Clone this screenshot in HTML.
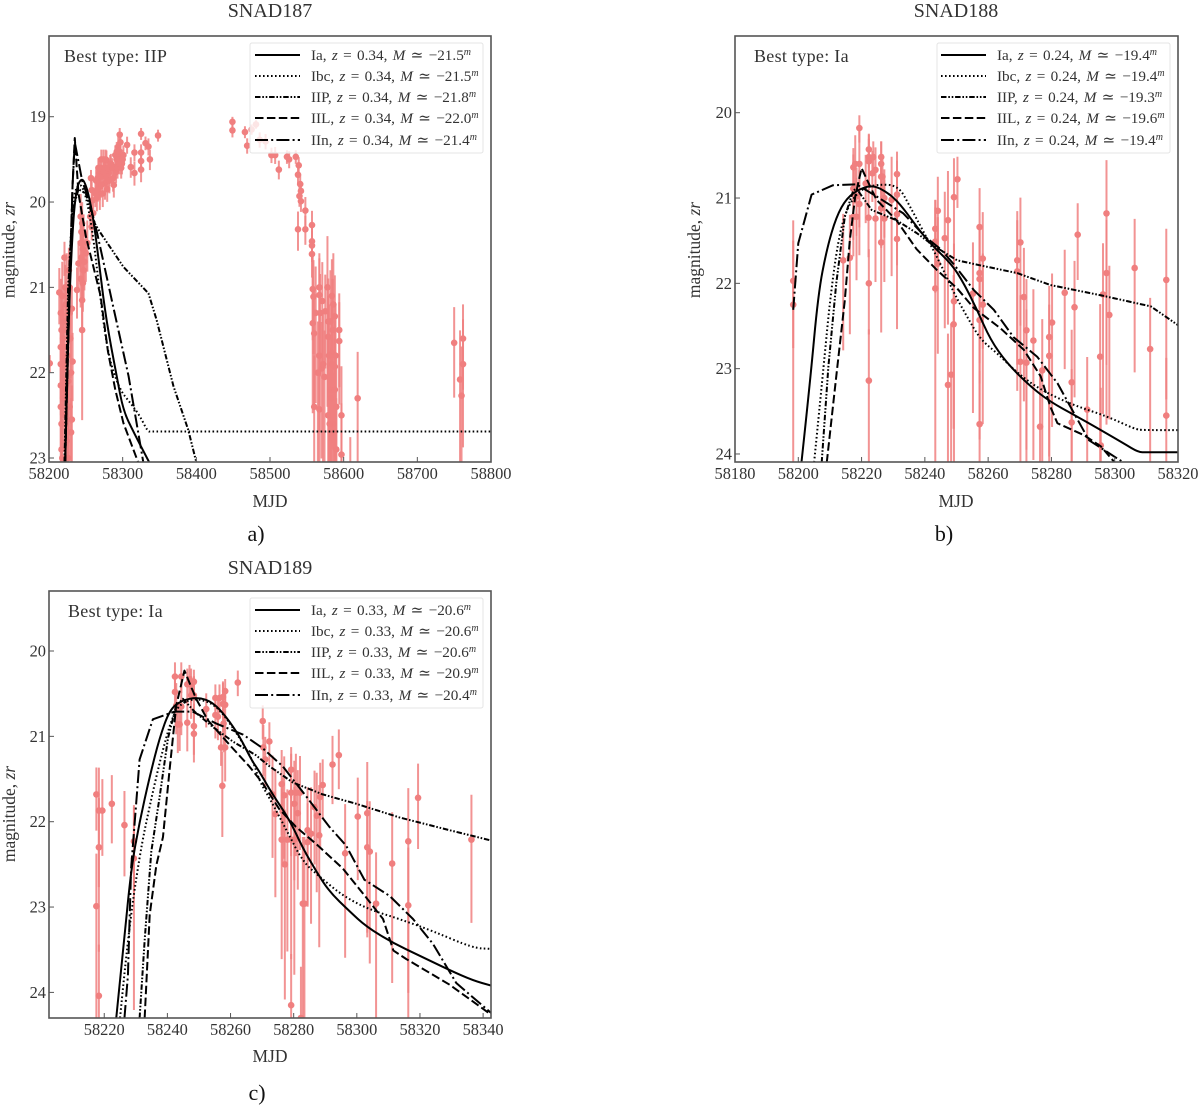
<!DOCTYPE html>
<html lang="en">
<head>
<meta charset="utf-8">
<title>SNAD light curves</title>
<style>
html,body{margin:0;padding:0;background:#fff;}
svg{display:block;}
text{font-family:"Liberation Serif","DejaVu Serif",serif;fill:#333;}
.title{font-size:20px;text-anchor:middle;}
.axlab{font-size:17.5px;text-anchor:middle;}
.tick{font-size:16.4px;}
.best{font-size:18px;letter-spacing:.3px;}
.lg{font-size:15.2px;word-spacing:1.5px;}
.sup{font-size:10px;font-style:italic;}
.i{font-style:italic;}
.cap{font-size:22px;text-anchor:middle;fill:#111;}
.frame{fill:none;stroke:#555;stroke-width:1.6;}
.lbox{fill:#fff;fill-opacity:.8;stroke:#e4e4e4;stroke-width:1;}
.lh{stroke:#000;stroke-width:2;fill:none;}
.ibc{stroke-dasharray:1.6 2.4;}
.iip{stroke-dasharray:5.5 1.8 1.6 1.8 1.6 1.8;}
.iil{stroke-dasharray:8.5 3.4;}
.iin{stroke-dasharray:13 3.2 2 3.2;}
</style>
</head>
<body>
<svg id="chart" xmlns="http://www.w3.org/2000/svg" width="1200" height="1106" viewBox="0 0 1200 1106">
<defs>
<clipPath id="clip-a"><rect x="49" y="36" width="442" height="426"/></clipPath>
<clipPath id="clip-b"><rect x="735" y="36" width="443" height="426"/></clipPath>
<clipPath id="clip-c"><rect x="49" y="591" width="442" height="427"/></clipPath>
</defs>

<g id="panel-a">
<text class="title" x="270" y="17">SNAD187</text>
<g id="marks-a" clip-path="url(#clip-a)"></g>
<g id="ticks-a"></g>
<rect class="frame" x="49" y="36" width="442" height="426"/>
<text class="best" x="64" y="62">Best type: IIP</text>
<text class="axlab" x="270" y="507">MJD</text>
<text class="axlab" transform="translate(14.5,250) rotate(-90)">magnitude, <tspan class="i">zr</tspan></text>
<g>
<rect class="lbox" x="250" y="43" width="233" height="110" rx="2"/>
<line class="lh" x1="255" x2="300" y1="55" y2="55"/>
<line class="lh ibc" x1="255" x2="300" y1="76" y2="76"/>
<line class="lh iip" x1="255" x2="300" y1="97" y2="97"/>
<line class="lh iil" x1="255" x2="300" y1="118" y2="118"/>
<line class="lh iin" x1="255" x2="300" y1="140" y2="140"/>
<text class="lg" x="311" y="60">Ia, <tspan class="i">z</tspan> = 0.34, <tspan class="i">M</tspan> ≃ −21.5<tspan class="sup" dy="-5">m</tspan></text>
<text class="lg" x="311" y="81">Ibc, <tspan class="i">z</tspan> = 0.34, <tspan class="i">M</tspan> ≃ −21.5<tspan class="sup" dy="-5">m</tspan></text>
<text class="lg" x="311" y="102">IIP, <tspan class="i">z</tspan> = 0.34, <tspan class="i">M</tspan> ≃ −21.8<tspan class="sup" dy="-5">m</tspan></text>
<text class="lg" x="311" y="123">IIL, <tspan class="i">z</tspan> = 0.34, <tspan class="i">M</tspan> ≃ −22.0<tspan class="sup" dy="-5">m</tspan></text>
<text class="lg" x="311" y="145">IIn, <tspan class="i">z</tspan> = 0.34, <tspan class="i">M</tspan> ≃ −21.4<tspan class="sup" dy="-5">m</tspan></text>
</g>
<text class="cap" x="256" y="541">a)</text>
</g>

<g id="panel-b">
<text class="title" x="956" y="17">SNAD188</text>
<g id="marks-b" clip-path="url(#clip-b)"></g>
<g id="ticks-b"></g>
<rect class="frame" x="735" y="36" width="443" height="426"/>
<text class="best" x="754" y="62">Best type: Ia</text>
<text class="axlab" x="956" y="507">MJD</text>
<text class="axlab" transform="translate(700,250) rotate(-90)">magnitude, <tspan class="i">zr</tspan></text>
<g>
<rect class="lbox" x="937" y="43" width="233" height="110" rx="2"/>
<line class="lh" x1="941" x2="986" y1="55" y2="55"/>
<line class="lh ibc" x1="941" x2="986" y1="76" y2="76"/>
<line class="lh iip" x1="941" x2="986" y1="97" y2="97"/>
<line class="lh iil" x1="941" x2="986" y1="118" y2="118"/>
<line class="lh iin" x1="941" x2="986" y1="140" y2="140"/>
<text class="lg" x="997" y="60">Ia, <tspan class="i">z</tspan> = 0.24, <tspan class="i">M</tspan> ≃ −19.4<tspan class="sup" dy="-5">m</tspan></text>
<text class="lg" x="997" y="81">Ibc, <tspan class="i">z</tspan> = 0.24, <tspan class="i">M</tspan> ≃ −19.4<tspan class="sup" dy="-5">m</tspan></text>
<text class="lg" x="997" y="102">IIP, <tspan class="i">z</tspan> = 0.24, <tspan class="i">M</tspan> ≃ −19.3<tspan class="sup" dy="-5">m</tspan></text>
<text class="lg" x="997" y="123">IIL, <tspan class="i">z</tspan> = 0.24, <tspan class="i">M</tspan> ≃ −19.6<tspan class="sup" dy="-5">m</tspan></text>
<text class="lg" x="997" y="145">IIn, <tspan class="i">z</tspan> = 0.24, <tspan class="i">M</tspan> ≃ −19.4<tspan class="sup" dy="-5">m</tspan></text>
</g>
<text class="cap" x="944" y="541">b)</text>
</g>

<g id="panel-c">
<text class="title" x="270" y="574">SNAD189</text>
<g id="marks-c" clip-path="url(#clip-c)"></g>
<g id="ticks-c"></g>
<rect class="frame" x="49" y="591" width="442" height="427"/>
<text class="best" x="68" y="617">Best type: Ia</text>
<text class="axlab" x="270" y="1062">MJD</text>
<text class="axlab" transform="translate(15,814) rotate(-90)">magnitude, <tspan class="i">zr</tspan></text>
<g>
<rect class="lbox" x="250" y="598" width="233" height="110" rx="2"/>
<line class="lh" x1="255" x2="300" y1="610" y2="610"/>
<line class="lh ibc" x1="255" x2="300" y1="631" y2="631"/>
<line class="lh iip" x1="255" x2="300" y1="652" y2="652"/>
<line class="lh iil" x1="255" x2="300" y1="673" y2="673"/>
<line class="lh iin" x1="255" x2="300" y1="695" y2="695"/>
<text class="lg" x="311" y="615">Ia, <tspan class="i">z</tspan> = 0.33, <tspan class="i">M</tspan> ≃ −20.6<tspan class="sup" dy="-5">m</tspan></text>
<text class="lg" x="311" y="636">Ibc, <tspan class="i">z</tspan> = 0.33, <tspan class="i">M</tspan> ≃ −20.6<tspan class="sup" dy="-5">m</tspan></text>
<text class="lg" x="311" y="657">IIP, <tspan class="i">z</tspan> = 0.33, <tspan class="i">M</tspan> ≃ −20.6<tspan class="sup" dy="-5">m</tspan></text>
<text class="lg" x="311" y="678">IIL, <tspan class="i">z</tspan> = 0.33, <tspan class="i">M</tspan> ≃ −20.9<tspan class="sup" dy="-5">m</tspan></text>
<text class="lg" x="311" y="700">IIn, <tspan class="i">z</tspan> = 0.33, <tspan class="i">M</tspan> ≃ −20.4<tspan class="sup" dy="-5">m</tspan></text>
</g>
<text class="cap" x="257" y="1100">c)</text>
</g>
</svg>

<script>
/* ===== Tick labels ===== */
const aXTicks = [58200,58300,58400,58500,58600,58700,58800];
const aYTicks = [19,20,21,22,23];
const bXTicks = [58180,58200,58220,58240,58260,58280,58300,58320];
const bYTicks = [20,21,22,23,24];
const cXTicks = [58220,58240,58260,58280,58300,58320,58340];
const cYTicks = [20,21,22,23,24];

/* ===== SNAD187 observations ===== */
const aObsMjd = [58201,58214,58216,58216,58216,58216,58216,58217,58217,58219,58219,58221,58222,58223,58224,58225,58226,58227,58228,58229,58230,58231,58231,58232,58222,58224,58226,58228,58218,
58243,58243,58240,58238,58245,58245,58250,58247,58252,
58257,58258,58259,58260,58256,58258,58266,58268,58269,58271,58274,58276,58269,58278,58281,58283,58287,58290,58292,58294,58296,58297,58301,58299,58306,58311,58316,58316,58325,58325,58325,58325,58331,58335,58337,58348,
58449,58449,58466,58469,58475,58481,58486,58494,58502,58507,58512,58523,58526,58535,58539,58538,58541,58542,58540,58542,58548,58538,58548,
58557,58557,58557,58557,58558,58559,58558,58560,58567,58567,58571,58568,58575,58567,58570,58574,58560,58567,58579,58579,58584,58588,58594,58594,58584,58588,58579,58597,58597,58619,58609,58582,58586,58590,
58750,58758,58762,58762,58760,
58263,58264,58265,58266,58267,58268,58269,58270,58271,58272,58273,58274,58275,58276,58277,58278,58279,58280,58282,58284,58286,58288,58290,58291,58292,58293,58294,58295,58296,58297,58298,58300,
58243,58244,58245,58246,58247,58248,58246,58244,
58218,58220,58222,58224,58226,58228,58219,58217,58221,58230,
58578,58580,58582,58584,58586,58588,58581,58585,58583,58587,58589,58590,58565,58562,58572];
const aObsMag = [21.89,21.06,21.3,21.7,21.9,22.15,22.4,22.6,22.9,21.6,21.9,20.65,21,21.2,21.5,21.8,22.1,20.8,21.3,21.6,22,21.25,22.55,21.87,22.5,22.8,23,22.4,23,
20.17,20.48,20.72,21.03,21.15,21.5,20.6,20.37,20.48,
19.72,19.86,19.98,20.13,20.17,20.29,19.72,19.66,19.82,19.5,19.62,19.78,19.9,19.51,19.66,19.59,19.72,19.59,19.41,19.35,19.21,19.47,19.45,19.55,19.33,19.59,19.42,19.66,19.2,19.42,19.52,19.62,19.31,19.35,19.5,19.22,
19.06,19.16,19.18,19.34,19.15,19.09,19.27,19.29,19.45,19.45,19.62,19.47,19.5,19.47,19.57,19.68,19.79,19.87,19.93,19.99,20.1,20.32,20.32,
20.27,20.46,20.51,20.61,21.02,21.11,21.42,21.54,21,21.09,21.16,21.3,21.28,21.8,21.95,22.05,22.4,22.43,21.4,21.58,21.1,21.34,21.5,21.63,21.77,21.93,22.5,22.5,22.96,22.3,23.3,22.2,22.6,22.9,
21.65,22.08,21.6,21.9,22.27,
19.9,19.75,19.95,19.85,19.6,19.8,19.7,19.6,19.8,19.7,19.9,19.5,19.65,19.6,19.5,19.7,19.85,19.6,19.75,19.55,19.6,19.8,19.45,19.65,19.5,19.6,19.5,19.4,19.55,19.3,19.6,19.5,
20.9,20.65,20.25,20.55,20.8,20.7,20.95,20.35,
21.1,21.4,22.2,21,22.4,21,22.3,21.5,21.7,22.7,
21,21.8,21.4,21.9,21.2,22.2,22.6,21.5,22.3,22.7,21.8,22.4,22,21.3,21.9];
const aObsErr = [0.1,0.33,0.5,0.5,0.5,0.6,0.6,0.6,0.6,0.5,0.5,0.2,0.3,0.3,0.4,0.4,0.5,0.3,0.3,0.4,0.5,0.3,0.5,0.4,0.6,0.6,0.6,0.5,0.6,
0.3,0.3,0.3,0.3,0.3,0.8,0.3,0.25,0.3,
0.1,0.12,0.12,0.15,0.15,0.15,0.15,0.15,0.15,0.12,0.15,0.18,0.18,0.12,0.15,0.15,0.15,0.12,0.12,0.12,0.08,0.12,0.12,0.12,0.1,0.12,0.1,0.14,0.07,0.1,0.12,0.14,0.08,0.1,0.12,0.07,
0.06,0.08,0.07,0.09,0.06,0.05,0.09,0.09,0.09,0.1,0.11,0.08,0.1,0.08,0.1,0.1,0.12,0.12,0.12,0.12,0.17,0.23,0.17,
0.18,0.18,0.18,0.25,0.5,0.55,0.8,0.7,0.5,0.55,0.6,0.6,0.55,0.7,0.8,0.8,1,1,0.7,0.65,0.55,0.65,0.55,0.6,0.8,0.8,1,0.9,1,0.8,0.8,1,1,1,
0.53,0.9,0.5,0.75,0.9,
0.15,0.14,0.15,0.14,0.12,0.14,0.14,0.12,0.14,0.14,0.15,0.12,0.14,0.14,0.12,0.14,0.14,0.12,0.14,0.12,0.12,0.14,0.12,0.12,0.12,0.12,0.12,0.12,0.12,0.1,0.12,0.12,
0.3,0.3,0.28,0.3,0.3,0.3,0.3,0.28,
0.5,0.5,0.5,0.5,0.5,0.5,0.5,0.5,0.5,0.5,
1,1,1,1,1,1,1,1,1,1,1,1,1,0.8,1];

/* ===== SNAD187 model curves ===== */
const aIaMjd = [58222,58226,58232,58237,58243,58248,58255,58262,58269,58278,58292,58301,58315,58336];
const aIaMag = [23.05,21.5,20.3,19.85,19.73,19.75,19.95,20.3,20.8,21.4,22.05,22.45,22.7,23.05];
const aIbcMjd = [58222,58226,58232,58238,58245,58252,58260,58268,58280,58296,58310,58323,58334,58338,58800];
const aIbcMag = [23.05,21,20,19.8,19.8,20,20.4,21,21.8,22.2,22.35,22.5,22.69,22.69,22.69];
const aIipMjd = [58221,58226,58232,58240,58250,58262,58269,58301,58335,58346,58369,58389,58400];
const aIipMag = [23.05,21,20.1,19.85,19.9,20.25,20.35,20.76,21.07,21.38,22.16,22.67,23.05];
const aIilMjd = [58222,58228,58232,58235,58240,58250,58260,58270,58280,58290,58301,58321];
const aIilMag = [23.05,21,19.8,19.25,19.9,20.4,20.75,21.1,21.75,22.2,22.59,23.05];
const aIinMjd = [58222,58228,58232,58235,58245,58255,58265,58287,58308,58328];
const aIinMag = [23.05,20.9,19.8,19.3,19.75,20,20.35,21.22,22.04,23.05];

/* ===== SNAD188 observations ===== */
const bObsMjd = [58198.4,58198.4,58214.2,58216.3,58217.4,58218,58219.3,58219.3,58217.4,58217.4,58218.4,58218.4,58219.3,58221.3,58222.3,58222.3,58222.3,58222.2,58222.3,58222.3,58223.7,58223.4,58224.4,58224.4,58226.2,58226.2,58226.2,58226.6,58226.2,58227.2,58227.2,58226.2,58229.5,58231.2,58231.2,58231.2,58231.2,
58243.3,58244.1,58243.3,58243.3,58244.1,58247.3,58246.3,58249.2,58250.3,58249.2,58249.1,58247.3,58248.3,
58257.3,58258.3,58257.3,58257.3,58255.2,58257.3,58258.3,58257.3,
58269.2,58270.2,58269.2,58271.3,58272.1,58270.2,58272.1,58274.3,58276.4,58277.1,58279.3,58279.3,58280.2,58284.2,58286.4,58286.4,58287.3,58288.3,58291.3,58295.4,58296.3,58297.4,58297.4,58298.3,58295.6,58306.3,58311.2,58316.3,58316.3];
const bObsMag = [21.97,22.25,21.73,21.7,20.64,20.6,20.18,20.6,20.89,21.22,21.22,20.98,21.07,20.83,20.43,20.57,20.52,21.23,22,23.14,20.52,20.71,20.67,21.24,20.52,20.6,20.75,20.75,21.12,21.24,21,21.52,21.02,20.72,20.96,21.19,21.48,
21.36,21.15,21.51,22.06,21.77,21.26,21.47,20.99,20.78,22.21,22.48,23.19,23.07,
21.34,21.71,21.88,21.95,22.12,22.43,22.25,23.65,
21.73,21.52,21.86,22.16,22.55,22.92,22.93,22.67,23.68,23.02,22.63,22.85,22.46,22.11,23.16,23.63,22.28,21.43,23.48,22.86,22.13,21.18,21.88,22.37,23.9,21.82,22.77,21.96,23.55];
const bObsErr = [0.63,1.9,0.8,0.7,0.25,0.4,0.16,0.6,0.5,0.4,0.6,0.4,0.5,0.4,0.2,0.3,0.3,0.4,0.5,1,0.2,0.3,0.3,0.6,0.2,0.3,0.3,0.3,0.4,0.6,0.4,0.8,0.7,0.3,0.5,0.5,0.8,
0.4,0.5,0.5,2,0.8,0.9,0.8,0.6,0.3,1.3,0.9,1,1,
0.6,0.8,0.8,0.9,1,1,1,1.2,
0.9,0.75,1,0.9,1,1.5,1.2,1,1.2,1,1,1,0.9,0.7,1.1,1.2,0.8,0.45,1.1,1.1,1,1.2,1.2,0.9,1.3,0.9,1,1,1.3];

/* ===== SNAD188 model curves ===== */
const bIaMjd = [58201,58203.7,58206.3,58209,58212,58215.3,58219.5,58223.7,58228,58232,58237.5,58241.6,58248.6,58252.3,58256.5,58260.7,58266,58273.4,58279.7,58287.1,58295.6,58303,58307.5,58310,58320];
const bIaMag = [24.1,23.17,22.12,21.6,21.22,21,20.89,20.85,20.93,21.06,21.34,21.53,21.78,22,22.31,22.66,22.94,23.21,23.39,23.54,23.72,23.88,23.98,23.98,23.98];
const bIbcMjd = [58205,58208,58210,58212.6,58215.3,58219.5,58224.7,58231.6,58235.3,58239.5,58244.7,58249,58253.3,58257.6,58262.9,58269.2,58276.6,58287.1,58297.7,58306.5,58309,58320];
const bIbcMag = [24.1,22.98,22.2,21.49,21.12,20.9,20.84,20.85,21.1,21.39,21.75,22.1,22.39,22.66,22.82,23.05,23.25,23.43,23.56,23.71,23.72,23.72];
const bIipMjd = [58207.4,58209.5,58212,58214.7,58217.4,58218.4,58223.2,58231,58237.4,58243.2,58250.2,58257.6,58269.2,58279.7,58295.6,58311.4,58320];
const bIipMag = [24.1,22.98,22,21.22,20.91,20.89,21.14,21.26,21.41,21.57,21.73,21.79,21.88,22.02,22.14,22.27,22.49];
const bIilMjd = [58209,58212,58214.7,58216.3,58218,58220,58224.7,58231,58237.4,58243.7,58250.2,58255.5,58264,58271.3,58276.6,58279.7,58281.9,58290.3,58295.6,58300];
const bIilMag = [24.1,23.09,22.2,21.49,20.98,20.65,21.02,21.26,21.6,21.84,22.06,22.29,22.53,22.78,23.09,23.45,23.64,23.78,23.91,24.1];
const bIinMjd = [58198.4,58200,58204.2,58211,58218.4,58224.7,58233.2,58240,58245,58249,58255.5,58261.8,58268,58275.5,58281.9,58287.1,58291.9,58302.8];
const bIinMag = [22.31,21.53,20.96,20.85,20.84,20.98,21.18,21.45,21.6,21.77,22.08,22.31,22.63,22.86,23.17,23.52,23.84,24.1];

/* ===== SNAD189 observations ===== */
const cObsMjd = [58217.5,58218.3,58219.4,58218.3,58217.5,58218.3,58222.4,58226.4,58229.4,58229.4,
58242.4,58242.4,58242.8,58243.3,58243.9,58244.4,58244.4,58246.3,58246.3,58247,58247.5,58248.4,58247.5,58248.4,58248.4,58248.4,58252.3,58255.2,58256.5,58255.2,58256,58257.6,58258.3,58258.3,58257.6,58257,58258.3,58257.4,58257.8,58262.3,
58270.2,58270.4,58271,58272.3,58273.3,58274.2,58276.2,58277,58276.5,58276.2,58277.2,58278,58279.2,58279.2,58280.2,58281.3,58280.7,58282,58279.2,58280.2,58279.2,58282.3,58282.9,58283.4,58284.4,58285.5,58284.4,58286.6,58287.3,58288.4,58289.2,58288.1,58292.3,58294.3,58296.3,58300.3,58303.3,58303.3,58304.1,58306.1,58311.2,58316.3,58316.3,58319.4,58336.3];
const cObsMag = [21.68,21.87,21.87,22.3,22.99,24.04,21.79,22.04,22.23,22.43,
20.3,20.48,20.64,20.86,20.86,20.3,20.65,20.39,20.84,20.33,20.39,20.36,20.52,20.52,20.88,20.97,20.68,20.55,20.55,20.75,20.77,20.54,20.47,20.63,20.62,21.13,21.13,21.58,20.85,20.37,
20.82,21.13,21.27,21.06,21.68,21.91,21.56,21.69,21.88,22.21,22.5,22.21,21.39,21.66,21.79,21.9,21.66,21.66,22.21,22.21,24.15,24.3,22.96,22.96,22.1,22.14,22.24,21.83,21.93,21.71,21.57,22.16,21.33,21.22,22.37,21.94,21.9,22.3,22.35,22.96,22.49,22.23,22.98,21.72,22.21];
const cObsErr = [0.37,0.7,0.45,0.9,1.1,1,0.4,0.5,0.5,1.2,
0.18,0.2,0.3,0.3,0.28,0.18,0.3,0.2,0.3,0.18,0.2,0.15,0.25,0.25,0.3,0.3,0.2,0.17,0.17,0.25,0.25,0.18,0.15,0.2,0.3,0.2,0.35,0.5,0.3,0.15,
0.2,0.3,0.3,0.25,0.6,0.75,0.5,0.6,0.5,1,1.1,0.95,0.3,0.6,0.7,0.7,0.6,0.55,1,1.1,1,1,1.5,1.5,0.7,0.8,0.6,0.55,0.7,0.5,0.35,0.95,0.4,0.35,0.9,0.6,1,0.8,0.95,1,1,1.2,1.3,0.5,0.75];

/* ===== SNAD189 model curves ===== */
const cIaMjd = [58223.8,58225.9,58228.5,58231.2,58234.4,58237.5,58240.7,58244.4,58249.7,58254.4,58258.6,58262.9,58266.5,58269.1,58273.3,58278.6,58282.9,58287.1,58291.3,58297.7,58303,58311.4,58319.9,58329.4,58336.8,58342.5];
const cIaMag = [24.3,23.55,22.55,22,21.47,21.02,20.69,20.58,20.54,20.6,20.77,21,21.27,21.41,21.68,21.97,22.31,22.58,22.82,23.05,23.23,23.42,23.57,23.74,23.86,23.92];
const cIbcMjd = [58225,58227.5,58231.2,58234.4,58238.6,58242.3,58246,58250.2,58255.5,58260.7,58267,58269.1,58272.3,58277.6,58282.9,58288.1,58295.6,58304,58313.5,58324,58336.8,58342.5];
const cIbcMag = [24.3,23.34,22.39,21.81,21.14,20.69,20.58,20.56,20.64,20.89,21.27,21.52,21.72,22.09,22.47,22.64,22.87,23.03,23.14,23.28,23.48,23.49];
const cIipMjd = [58231.2,58232.8,58234.9,58237.5,58240.2,58242.8,58244.9,58248.6,58254.4,58260.7,58268,58272.3,58279.7,58289.2,58299.8,58313.5,58329.4,58342.5];
const cIipMag = [24.3,23.39,22.35,21.72,21.02,20.64,20.56,20.71,20.89,21.06,21.22,21.35,21.54,21.68,21.79,21.95,22.1,22.22];
const cIilMjd = [58232.8,58234.4,58236.5,58238.6,58240.7,58242.8,58245.4,58249.1,58252.8,58259.7,58265.9,58270.2,58275.4,58280.7,58287.1,58295.6,58303,58308.3,58311.6,58315.7,58329.4,58342.5];
const cIilMag = [24.3,23.09,22.51,22.18,21.39,20.64,20.23,20.56,20.81,21.1,21.35,21.55,21.85,22.06,22.26,22.55,22.89,23.14,23.51,23.61,23.91,24.26];
const cIinMjd = [58226.4,58227.5,58228.5,58231.2,58235.4,58242.3,58248,58255.5,58264,58270.2,58276.5,58283.9,58291.3,58296.6,58302.4,58310.4,58317.8,58324.1,58331.5,58342.5];
const cIinMag = [24.3,23.8,22.55,21.27,20.8,20.71,20.71,20.85,20.98,21.14,21.35,21.7,22.06,22.28,22.68,22.87,23.14,23.43,23.89,24.24];

const SVGNS = 'http://www.w3.org/2000/svg';

function linearScale(d0, d1, r0, r1) {
  return function (v) { return r0 + (v - d0) * (r1 - r0) / (d1 - d0); };
}

function makeEl(tag, parent) {
  const el = document.createElementNS(SVGNS, tag);
  parent.appendChild(el);
  return el;
}

function drawAxes(id, xTicks, yTicks, x, y, box) {
  const g = document.getElementById('ticks-' + id);
  xTicks.forEach(function (t) {
    const px = x(t).toFixed(2);
    const ln = makeEl('line', g);
    
    
    ln.setAttribute('x1', px); ln.setAttribute('x2', px);
    ln.setAttribute('y1', box.bottom); ln.setAttribute('y2', box.bottom - 5);
    ln.setAttribute('stroke', '#555'); ln.setAttribute('stroke-width', '1');
    const tx = makeEl('text', g);
    
    
    tx.setAttribute('class', 'tick');
    tx.setAttribute('text-anchor', 'middle');
    tx.setAttribute('x', px);
    tx.setAttribute('y', box.bottom + 17);
    tx.textContent = String(t);
  });
  yTicks.forEach(function (t) {
    const py = y(t).toFixed(2);
    const ln = makeEl('line', g);
    
    
    ln.setAttribute('y1', py); ln.setAttribute('y2', py);
    ln.setAttribute('x1', box.left); ln.setAttribute('x2', box.left + 5);
    ln.setAttribute('stroke', '#555'); ln.setAttribute('stroke-width', '1');
    const tx = makeEl('text', g);
    
    
    tx.setAttribute('class', 'tick');
    tx.setAttribute('text-anchor', 'end');
    tx.setAttribute('x', box.left - 3);
    tx.setAttribute('y', y(t) + 5.5);
    tx.textContent = String(t);
  });
}

/* Magnitude error bars are asymmetric: the fainter side is longer, increasingly so for large errors */
function drawObs(id, mjd, mag, err, x, y) {
  const g = document.getElementById('marks-' + id);
  const n = Math.min(mjd.length, mag.length, err.length);
  for (let i = 0; i < n; i++) {
    const skew = 0.4 * Math.min(err[i], 1.2);
    const bar = makeEl('line', g);
    
    
    bar.setAttribute('x1', x(mjd[i]).toFixed(2));
    bar.setAttribute('x2', x(mjd[i]).toFixed(2));
    bar.setAttribute('y1', y(mag[i] - err[i] * (1 - skew)).toFixed(2));
    bar.setAttribute('y2', y(mag[i] + err[i] * (1 + skew)).toFixed(2));
    bar.setAttribute('stroke', '#f08080');
    bar.setAttribute('stroke-opacity', '0.85');
    bar.setAttribute('stroke-width', '2');
  }
  for (let i = 0; i < n; i++) {
    const dot = makeEl('circle', g);
    
    
    dot.setAttribute('cx', x(mjd[i]).toFixed(2));
    dot.setAttribute('cy', y(mag[i]).toFixed(2));
    dot.setAttribute('r', '3.3');
    dot.setAttribute('fill', '#f07f7f');
  }
}

/* smooth=true rounds the corners through segment midpoints, with no overshoot */
function drawCurve(id, name, dash, smooth, mjd, mag, x, y) {
  const g = document.getElementById('marks-' + id);
  const path = makeEl('path', g);
  
  
  const n = Math.min(mjd.length, mag.length);
  const px = [], py = [];
  for (let i = 0; i < n; i++) {
    px.push(x(mjd[i]));
    py.push(y(mag[i]));
  }
  let d = 'M' + px[0].toFixed(2) + ' ' + py[0].toFixed(2);
  for (let i = 1; i < n; i++) {
    if (smooth && i < n - 1) {
      const mx = (px[i] + px[i + 1]) / 2;
      const my = (py[i] + py[i + 1]) / 2;
      d += 'Q' + px[i].toFixed(2) + ' ' + py[i].toFixed(2) + ' ' + mx.toFixed(2) + ' ' + my.toFixed(2);
    } else {
      d += 'L' + px[i].toFixed(2) + ' ' + py[i].toFixed(2);
    }
  }
  path.setAttribute('d', d);
  path.setAttribute('fill', 'none');
  path.setAttribute('stroke', '#000');
  path.setAttribute('stroke-width', '2');
  path.setAttribute('stroke-linejoin', 'round');
  if (dash) { path.setAttribute('stroke-dasharray', dash); }
}

const DASH_IBC = '1.6 2.4';
const DASH_IIP = '5.5 1.8 1.6 1.8 1.6 1.8';
const DASH_IIL = '8.5 3.4';
const DASH_IIN = '13 3.2 2 3.2';

function drawPanel(id, box, dom, xTicks, yTicks, obs, curves) {
  const x = linearScale(dom.x0, dom.x1, box.left, box.right);
  const y = linearScale(dom.y0, dom.y1, box.top, box.bottom);
  drawAxes(id, xTicks, yTicks, x, y, box);
  drawObs(id, obs[0], obs[1], obs[2], x, y);
  drawCurve(id, 'curve-ia', '', true, curves[0], curves[1], x, y);
  drawCurve(id, 'curve-ibc', DASH_IBC, true, curves[2], curves[3], x, y);
  drawCurve(id, 'curve-iip', DASH_IIP, false, curves[4], curves[5], x, y);
  drawCurve(id, 'curve-iil', DASH_IIL, false, curves[6], curves[7], x, y);
  drawCurve(id, 'curve-iin', DASH_IIN, false, curves[8], curves[9], x, y);
}

drawPanel('a', {left:49,right:491,top:36,bottom:462},
  {x0:58200,x1:58800,y0:18.054,y1:23.047},
  aXTicks, aYTicks, [aObsMjd,aObsMag,aObsErr],
  [aIaMjd,aIaMag,aIbcMjd,aIbcMag,aIipMjd,aIipMag,aIilMjd,aIilMag,aIinMjd,aIinMag]);

drawPanel('b', {left:735,right:1178,top:36,bottom:462},
  {x0:58180,x1:58320,y0:19.101,y1:24.094},
  bXTicks, bYTicks, [bObsMjd,bObsMag,bObsErr],
  [bIaMjd,bIaMag,bIbcMjd,bIbcMag,bIipMjd,bIipMag,bIilMjd,bIilMag,bIinMjd,bIinMag]);

drawPanel('c', {left:49,right:491,top:591,bottom:1018},
  {x0:58202.5,x1:58342.5,y0:19.297,y1:24.3},
  cXTicks, cYTicks, [cObsMjd,cObsMag,cObsErr],
  [cIaMjd,cIaMag,cIbcMjd,cIbcMag,cIipMjd,cIipMag,cIilMjd,cIilMag,cIinMjd,cIinMag]);
</script>
</body>
</html>
